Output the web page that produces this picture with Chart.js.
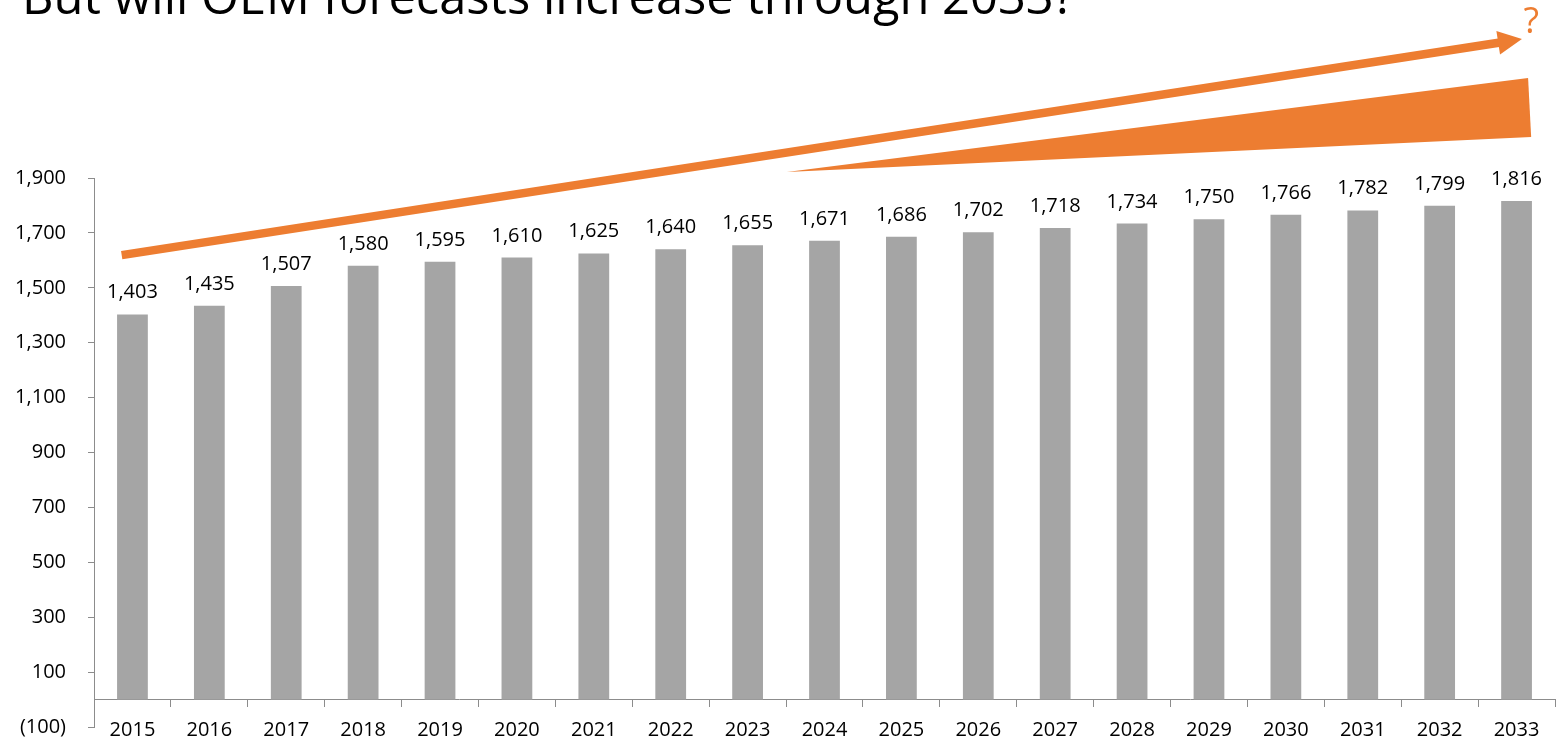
<!DOCTYPE html>
<html>
<head>
<meta charset="utf-8">
<script src="https://cdn.jsdelivr.net/npm/chart.js@4"></script>
<style>
    html, body { margin: 0; padding: 0; background: #fff; overflow: hidden; }
    #wrap { width: 1557px; height: 740px; position: relative; }
</style>
</head>
<body>
<div id="wrap"><canvas id="chart"></canvas></div>
<script>
const years = ['2015', '2016', '2017', '2018', '2019', '2020', '2021', '2022', '2023', '2024',
    '2025', '2026', '2027', '2028', '2029', '2030', '2031', '2032', '2033'];
const forecast = [1403, 1435, 1507, 1580, 1595, 1610, 1625, 1640, 1655, 1671,
    1686, 1702, 1718, 1734, 1750, 1766, 1782, 1799, 1816];
const yMin = -100;
const yMax = 1900;
const yStep = 200;
const titleText = 'But will OEM forecasts increase through 2033?';

// decorations, anchored in (category index, value) space
const arrowFrom = [-0.14, 1619];
const arrowTo = [18.07, 2406];
const wedge = [[8.51, 1922], [18.15, 2264], [18.19, 2049]];
const questionAt = [18.19, 2430];

const orange = '#ED7D31';
const axisGrey = '#8C8C8C';
const barGrey = '#A5A5A5';
const fontFamily = "'Open Sans', 'Liberation Sans', sans-serif";

const fmt = function (v) {
    return v < 0 ? '(' + Math.abs(v).toLocaleString('en-US') + ')' : v.toLocaleString('en-US');
};

const Decor = {
    id: 'decor',
    afterDatasetsDraw: function (chart) {
        const ctx = chart.ctx;
        const xs = chart.scales.x;
        const ys = chart.scales.y;
        const pt = (p) => {
            const step = xs.getPixelForValue(1) - xs.getPixelForValue(0);
            return [xs.getPixelForValue(0) + p[0] * step, ys.getPixelForValue(p[1])];
        };
        ctx.save();

        // value labels above the bars
        ctx.fillStyle = '#000';
        ctx.font = '20px ' + fontFamily;
        ctx.textAlign = 'center';
        ctx.textBaseline = 'alphabetic';
        chart.getDatasetMeta(0).data.forEach((bar, i) => {
            ctx.fillText(fmt(forecast[i]), bar.x, bar.y - 16);
        });

        // title (top part runs off the page, as in the slide)
        ctx.textAlign = 'left';
        ctx.font = '48px ' + fontFamily;
        const w = ctx.measureText(titleText).width;
        const size = 48 * 1053 / w;
        ctx.font = size + 'px ' + fontFamily;
        ctx.fillText(titleText, 22, 14);

        // arrow
        const a = pt(arrowFrom);
        const b = pt(arrowTo);
        const dx = b[0] - a[0];
        const dy = b[1] - a[1];
        const len = Math.hypot(dx, dy);
        const ux = dx / len, uy = dy / len;
        const headLen = 24, headHalf = 12;
        const bx = b[0] - ux * headLen, by = b[1] - uy * headLen;
        ctx.strokeStyle = orange;
        ctx.fillStyle = orange;
        ctx.lineWidth = 8.5;
        ctx.lineCap = 'butt';
        ctx.beginPath();
        ctx.moveTo(a[0], a[1]);
        ctx.lineTo(bx + ux * 2, by + uy * 2);
        ctx.stroke();
        ctx.beginPath();
        ctx.moveTo(b[0], b[1]);
        ctx.lineTo(bx - uy * headHalf, by + ux * headHalf);
        ctx.lineTo(bx + uy * headHalf, by - ux * headHalf);
        ctx.closePath();
        ctx.fill();

        // wedge
        ctx.beginPath();
        wedge.forEach((p, i) => {
            const q = pt(p);
            if (i === 0) ctx.moveTo(q[0], q[1]);
            else ctx.lineTo(q[0], q[1]);
        });
        ctx.closePath();
        ctx.fill();

        // question mark
        const q = pt(questionAt);
        ctx.font = '36px ' + fontFamily;
        ctx.textAlign = 'center';
        ctx.fillText('?', q[0], q[1]);

        ctx.restore();
    }
};

new Chart(document.getElementById('chart'), {
    type: 'bar',
    data: {
        labels: years,
        datasets: [
            {
                data: forecast,
                backgroundColor: barGrey,
                borderWidth: 0,
                categoryPercentage: 1,
                barPercentage: 0.4
            }
        ]
    },
    options: {
        responsive: true,
        maintainAspectRatio: false,
        animation: false,
        devicePixelRatio: 1,
        layout: {
            padding: { top: 178, bottom: 13, left: 0, right: 2 }
        },
        plugins: {
            legend: { display: false },
            tooltip: { enabled: false }
        },
        scales: {
            x: {
                position: { y: 0 },
                afterFit: function (scale) {
                    scale.height = 0;
                    scale.paddingTop = 0;
                    scale.paddingBottom = 0;
                },
                grid: {
                    offset: true,
                    drawOnChartArea: false,
                    drawTicks: true,
                    tickLength: 7,
                    color: axisGrey
                },
                border: { color: axisGrey, width: 1 },
                ticks: {
                    padding: 12,
                    color: '#000',
                    maxRotation: 0,
                    autoSkip: false,
                    font: { family: fontFamily, size: 20 }
                }
            },
            y: {
                min: yMin,
                max: yMax,
                afterFit: function (scale) {
                    scale.width = 94;
                    scale.paddingTop = 0;
                    scale.paddingBottom = 0;
                },
                grid: {
                    drawOnChartArea: false,
                    drawTicks: true,
                    tickLength: 6,
                    color: axisGrey
                },
                border: { color: axisGrey, width: 1 },
                ticks: {
                    stepSize: yStep,
                    padding: 22,
                    color: '#000',
                    font: { family: fontFamily, size: 20 },
                    callback: fmt
                }
            }
        }
    },
    plugins: [Decor]
});
</script>
</body>
</html>
